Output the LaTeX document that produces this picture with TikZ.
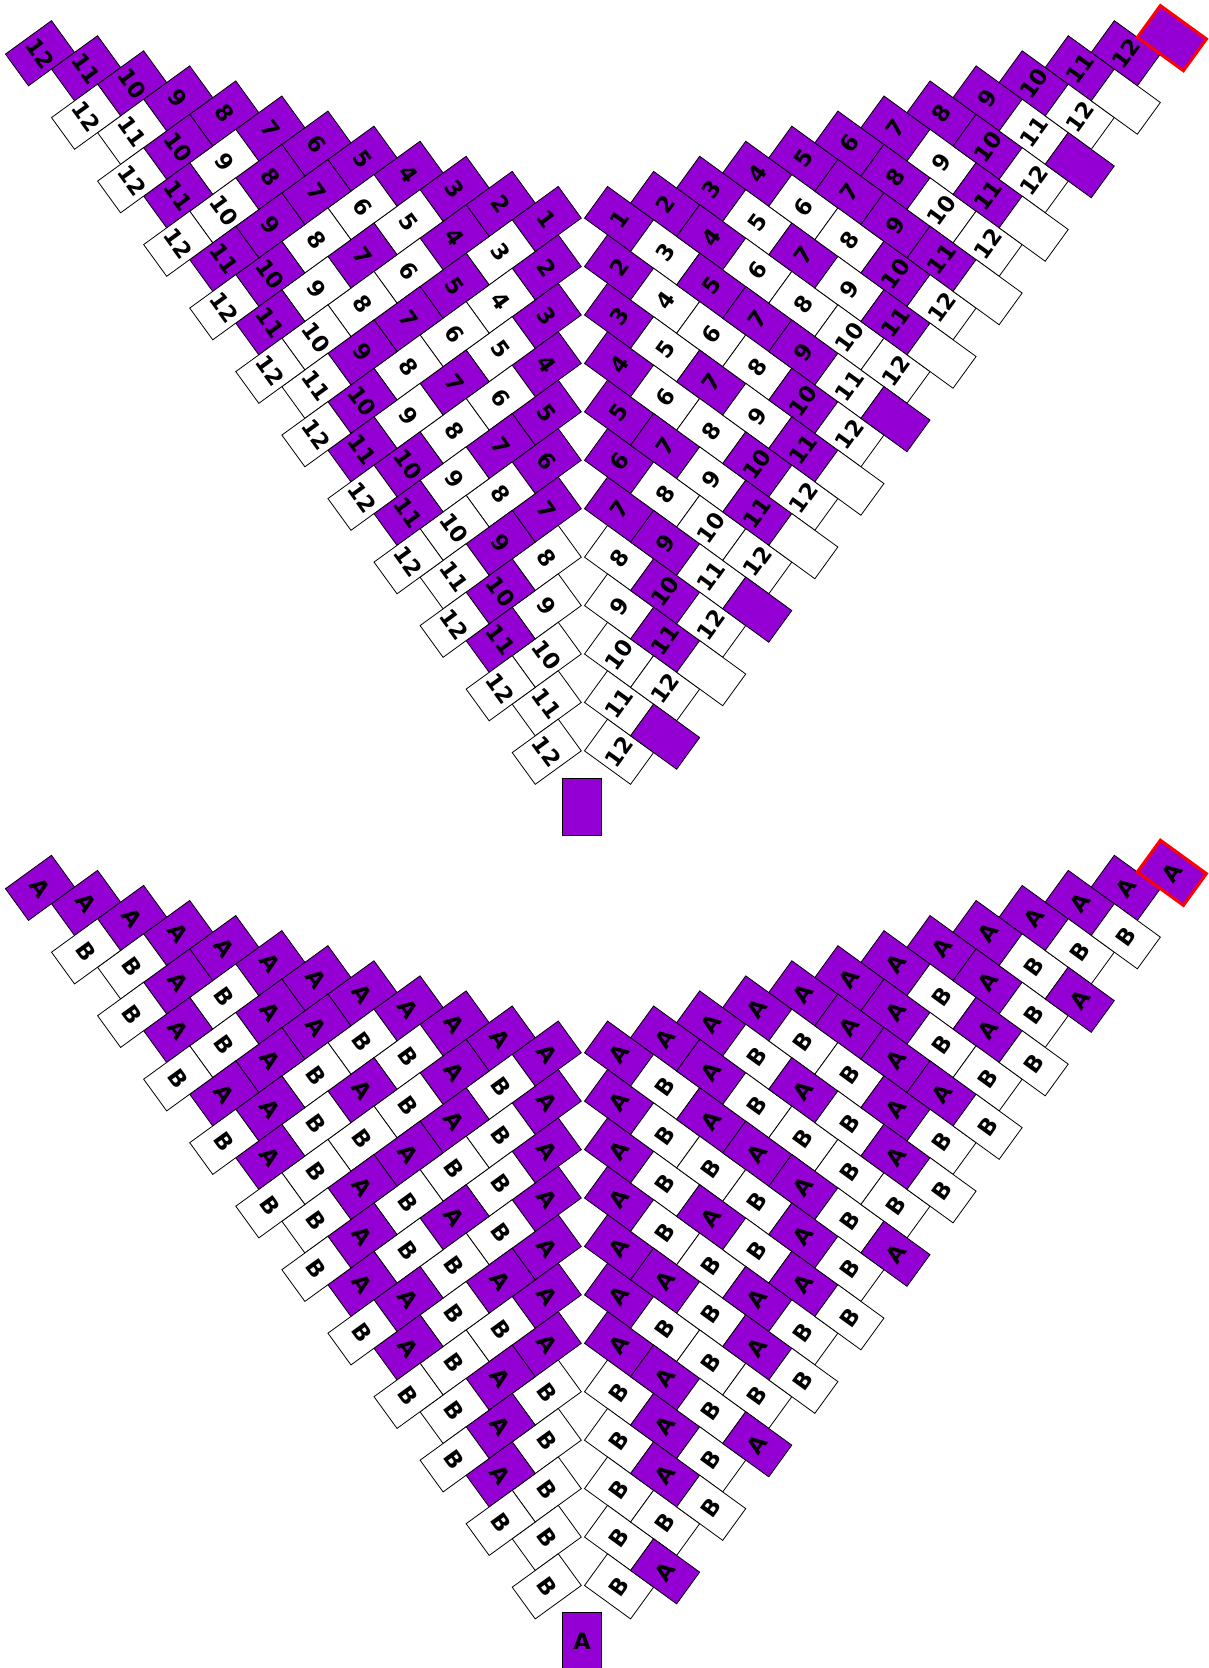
\documentclass[tikz,border=0pt]{standalone}
\usepackage{fontspec}
\setmainfont{DejaVu Sans}
\definecolor{bp}{HTML}{9400D3}
\newcommand\labP{A}
\newcommand\labW{B}
\begin{document}
\begin{tikzpicture}[x=1pt,y=-1pt,
  bead/.style={draw=black, line width=0.8pt, rectangle, minimum width=39.2pt,
    minimum height=56.9pt, inner sep=0pt, font=\fontsize{22.5}{22.5}\selectfont\bfseries},
  bP/.style={fill=bp}, bW/.style={fill=white},
  redbead/.style={draw=red, line width=3pt}]
\useasboundingbox (0,0) rectangle (1208,1668);
\foreach \j/\row in {1/{P,P,P,P,P,P,P,P,P,P,P,P}, 2/{P,W,P,W,W,P,P,W,P,W,W},
  3/{P,W,P,W,P,W,P,W,P,W}, 4/{P,W,W,P,W,W,P,P,W}, 5/{P,W,P,W,P,W,P,W},
  6/{P,P,W,W,P,W,W}, 7/{P,W,W,P,P,W}, 8/{W,P,W,P,W}, 9/{W,P,W,W},
  10/{W,P,W}, 11/{W,W}, 12/{W}} {
  \foreach \c [count=\k from 0] in \row {
    \pgfmathtruncatemacro\n{\j+\k}
    \pgfmathsetmacro\xl{546.75-\k*46.07}
    \pgfmathsetmacro\xr{619.05+\k*46.07}
    \pgfmathsetmacro\yy{219+(\j-1)*48.43-\k*15.07}
    \pgfmathsetmacro\yb{\yy+834.6}
    \node[bead,b\c,rotate=-54.03] (L-\j-\n) at (\xl,\yy) {\n};
    \node[bead,b\c,rotate=54.03] (R-\j-\n) at (\xr,\yy) {\n};
    \node[bead,b\c,rotate=-54.03] (LB-\j-\n) at (\xl,\yb) {\csname lab\c\endcsname};
    \node[bead,b\c,rotate=54.03] (RB-\j-\n) at (\xr,\yb) {\csname lab\c\endcsname};
  }
}
% extra column (position 13) on the right arm
\foreach \j/\c in {2/W,3/P,4/W,5/W,6/W,7/P,8/W,9/W,10/P,11/W,12/P} {
  \pgfmathsetmacro\xr{619.05+(13-\j)*46.07}
  \pgfmathsetmacro\yy{219+(\j-1)*48.43-(13-\j)*15.07}
  \pgfmathsetmacro\yb{\yy+834.6}
  \node[bead,b\c,rotate=54.03] (R-\j-13) at (\xr,\yy) {};
  \node[bead,b\c,rotate=54.03] (RB-\j-13) at (\xr,\yb) {\csname lab\c\endcsname};
}
\node[bead,bP,redbead,rotate=54.03] (R-1-13) at (1171.89,38.16) {};
\node[bead,bP,redbead,rotate=54.03] (RB-1-13) at (1171.89,872.76) {A};
% middle beads
\node[bead,bP] (M) at (582,806.7) {};
\node[bead,bP] (MB) at (582,1641.3) {A};
\end{tikzpicture}
\end{document}
